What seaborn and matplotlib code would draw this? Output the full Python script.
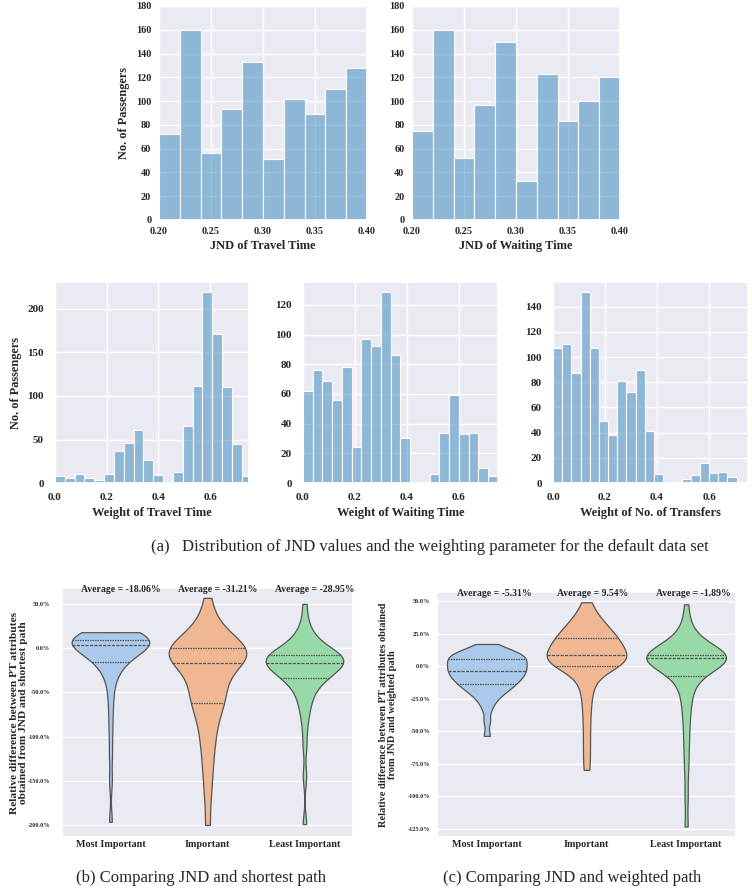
import numpy as np
import pandas as pd
import seaborn as sns
import matplotlib
matplotlib.use('Agg')
import matplotlib.pyplot as plt
from matplotlib.ticker import PercentFormatter, FormatStrFormatter
from matplotlib import transforms

# ---- histogram bin counts ----
jnd_travel_counts = [72, 160, 56, 93, 133, 51, 102, 89, 110, 128]
jnd_waiting_counts = [75, 160, 52, 97, 150, 33, 123, 83, 100, 120]
w_travel_counts = [8, 6, 10, 6, 4, 10, 37, 46, 61, 27, 9, 0, 13, 66, 111, 220, 171, 110, 45, 8]
w_waiting_counts = [62, 76, 69, 56, 78, 24, 97, 92, 129, 86, 30, 0, 0, 6, 34, 59, 33, 34, 10, 5]
w_transfer_counts = [107, 110, 87, 152, 107, 49, 38, 81, 72, 90, 41, 7, 0, 1, 3, 6, 16, 8, 9, 5]

# bin ranges (low, high) of each histogram
jnd_range = (0.20, 0.40)
w_travel_range = (0.0, 0.76)
w_waiting_range = (0.0, 0.75)
w_transfer_range = (0.0, 0.706)

# ---- violin samples: relative difference (%) ----
categories = ['Most Important', 'Important', 'Least Important']

short_most = [10, 11.5, 13, 14, 15, 15.8, 16.5, 17, 17.4, 17.7, 17.9, 18,
              4.0, 4.4, 4.9, 5.3, 5.8, 6.2, 6.7, 7.1, 7.6, 8.0, 8.4, 8.8,
              3.3, 2.5, 1.5, 0.3, -1.0, -2.5, -4.0, -6.0, -8.0, -10.5, -13, -15.5,
              -17, -19.5, -23, -28, -35, -45, -58, -75, -95, -120, -150, -196.4]
short_imp = [1.5, 3, 5, 7, 9.5, 12, 15, 19, 24, 30, 40, 56.8,
             -0.5, -2, -3.5, -4.8, -6, -7.3, -8.6, -10, -11.4, -12.8, -14, -15.2,
             -17.5, -21, -25, -29, -33, -37, -41, -45, -49, -53, -57, -61,
             -65, -70, -76, -83, -91, -100, -110, -121, -135, -150, -170, -200]
short_least = [-6.5, -5, -3.3, -1.5, 0.5, 3, 6, 9.5, 14, 20, 30, 50,
               -8.2, -8.9, -9.6, -10.3, -11, -11.7, -12.4, -13.1, -13.8, -14.5, -15.1, -15.6,
               -17, -18.5, -20, -21.5, -23, -24.5, -26, -27.5, -29, -30.5, -32, -33.3,
               -36, -39, -43, -47, -52, -58, -65, -74, -88, -110, -145, -199]
short_avg = ['-18.06%', '-31.21%', '-28.95%']

weight_most = [6, 6.6, 7.2, 7.8, 8.5, 9.2, 10, 10.8, 11.8, 13, 14.5, 17,
               4.8, 4.1, 3.4, 2.7, 2, 1.2, 0.4, -0.4, -1.2, -2, -2.6, -3.1,
               -4, -4.8, -5.6, -6.4, -7.2, -8, -8.8, -9.6, -10.4, -11.3, -12.2, -13.1,
               -14.5, -15.5, -16.5, -17.7, -19, -20.5, -22.5, -25, -28, -33, -42, -53.5]
weight_imp = [22.5, 23.7, 25, 26.4, 27.9, 29.5, 31.3, 33.3, 35.6, 38.5, 42.5, 49,
              9.6, 10.6, 11.6, 12.6, 13.7, 14.8, 15.9, 17, 18.1, 19.2, 20.3, 21,
              8, 7.4, 6.7, 6, 5.3, 4.6, 3.9, 3.2, 2.5, 1.8, 1.2, 0.6,
              -1, -3, -6, -9.5, -14, -20, -27, -36, -46, -57, -68, -79.6]
weight_least = [9.5, 10.5, 11.7, 13, 14.5, 16.2, 18.2, 20.5, 23.5, 27.5, 34, 47.4,
                6.2, 6.4, 6.6, 6.8, 7.0, 7.2, 7.5, 7.7, 7.9, 8.1, 8.3, 8.5,
                5.6, 5.1, 4.5, 3.8, 3, 2.1, 1.1, 0, -1.3, -2.8, -4.5, -6.3,
                -10, -13, -17, -22, -28, -35, -44, -54, -66, -80, -100, -123]
weight_avg = ['-5.31%', '9.54%', '-1.89%']

sns.set_theme(style='darkgrid')
plt.rcParams['font.family'] = ['Liberation Serif', 'DejaVu Serif']
plt.rcParams['font.weight'] = 'bold'
plt.rcParams['axes.labelweight'] = 'bold'
plt.rcParams['axes.unicode_minus'] = False


def draw_hist(ax, counts, rng, xlim, xticks, fmt, xlabel, ylabel, tick_size, xpad, ypad):
    width = (rng[1] - rng[0]) / len(counts)
    df = pd.DataFrame({'value': [rng[0] + (i + 0.5) * width for i in range(len(counts))],
                       'count': counts})
    sns.histplot(data=df, x='value', weights='count', bins=len(counts), binrange=rng,
                 color='#1f77b4', alpha=0.45, edgecolor='white', linewidth=0.8, ax=ax)
    ax.set_xlim(xlim)
    ax.set_xticks(xticks)
    ax.xaxis.set_major_formatter(FormatStrFormatter(fmt))
    ax.set_xlabel(xlabel, fontsize=9, labelpad=3)
    ax.set_ylabel(ylabel, fontsize=8.8, labelpad=4)
    ax.tick_params(axis='x', labelsize=tick_size, length=0, pad=xpad)
    ax.tick_params(axis='y', labelsize=tick_size, length=0, pad=ypad)


def draw_violin(ax, groups, averages, ylim, yticks, ylabel, ypad, label_x, label_size):
    df = pd.DataFrame({
        'group': np.repeat(categories, [len(g) for g in groups]),
        'value': np.concatenate(groups),
    })
    sns.violinplot(data=df, x='group', y='value', hue='group', palette='pastel',
                   cut=0, inner='quart', bw_adjust=0.6, linewidth=0.9,
                   linecolor='#555555', legend=False, ax=ax)
    ax.set_ylim(ylim)
    ax.set_yticks(yticks)
    ax.yaxis.set_major_formatter(PercentFormatter(100, decimals=1))
    ax.set_xlabel('')
    ax.set_ylabel(ylabel, fontsize=label_size, linespacing=0.92)
    ax.yaxis.set_label_coords(label_x, 0.5)
    ax.tick_params(axis='y', labelsize=4.5, length=0, pad=ypad)
    ax.tick_params(axis='x', labelsize=7.3, length=0, pad=2)
    trans = transforms.blended_transform_factory(ax.transData, ax.transAxes)
    for i, avg in enumerate(averages):
        ax.text(i - 0.3, 0.995, 'Average = ' + avg, transform=trans,
                ha='left', va='center', fontsize=7, fontweight='bold')


fig = plt.figure(figsize=(7.52, 8.91), dpi=100)

ax1 = fig.add_axes([0.2114, 0.7531, 0.2766, 0.2402])
ax2 = fig.add_axes([0.5479, 0.7531, 0.2766, 0.2402])
ax3 = fig.add_axes([0.0731, 0.4579, 0.2580, 0.2256])
ax4 = fig.add_axes([0.4029, 0.4579, 0.2593, 0.2256])
ax5 = fig.add_axes([0.7354, 0.4579, 0.2593, 0.2256])
ax6 = fig.add_axes([0.0824, 0.0606, 0.3870, 0.2795])
ax7 = fig.add_axes([0.5811, 0.0606, 0.3976, 0.2750])

jnd_ticks = [0.20, 0.25, 0.30, 0.35, 0.40]
draw_hist(ax1, jnd_travel_counts, jnd_range, (0.2, 0.4), jnd_ticks, '%.2f',
          'JND of Travel Time', 'No. of Passengers', 7.4, 5, 5.5)
draw_hist(ax2, jnd_waiting_counts, jnd_range, (0.2, 0.4), jnd_ticks, '%.2f',
          'JND of Waiting Time', '', 7.4, 5, 5.5)
for ax in (ax1, ax2):
    ax.set_ylim(0, 180)
    ax.set_yticks(range(0, 181, 20))

w_ticks = [0.0, 0.2, 0.4, 0.6]
draw_hist(ax3, w_travel_counts, w_travel_range, (0, 0.75), w_ticks, '%.1f',
          'Weight of Travel Time', 'No. of Passengers', 8, 7.5, 8)
draw_hist(ax4, w_waiting_counts, w_waiting_range, (0, 0.75), w_ticks, '%.1f',
          'Weight of Waiting Time', '', 8, 7.5, 8)
draw_hist(ax5, w_transfer_counts, w_transfer_range, (0, 0.75), w_ticks, '%.1f',
          'Weight of No. of Transfers', '', 8, 7.5, 8)

draw_violin(ax6, [short_most, short_imp, short_least], short_avg, (-213.6, 68),
            [50, 0, -50, -100, -150, -200],
            'Relative difference between PT attributes\nobtained from JND and shortest path',
            8.5, -0.118, 8.2)
draw_violin(ax7, [weight_most, weight_imp, weight_least], weight_avg, (-131.1, 56.9),
            [50, 25, 0, -25, -50, -75, -100, -125],
            'Relative difference between PT attributes obtained\nfrom JND and weighted path',
            5, -0.135, 7.5)

fig.text(430 / 752, 1 - 547 / 891,
         '(a)   Distribution of JND values and the weighting parameter for the default data set',
         ha='center', va='center', fontsize=12, fontweight='normal')
fig.text(201 / 752, 1 - 878 / 891, '(b) Comparing JND and shortest path',
         ha='center', va='center', fontsize=12, fontweight='normal')
fig.text(572 / 752, 1 - 878 / 891, '(c) Comparing JND and weighted path',
         ha='center', va='center', fontsize=12, fontweight='normal')

fig.savefig('out.png', dpi=100)
plt.close(fig)
